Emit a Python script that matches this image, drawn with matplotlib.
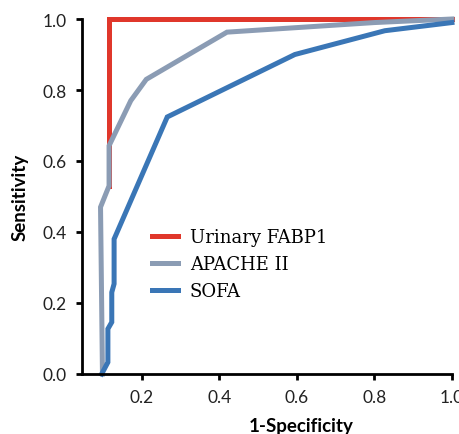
import matplotlib
matplotlib.use("Agg")
import matplotlib.pyplot as plt

# ROC curves
fabp1_x = [0.116, 0.116, 1.000]
fabp1_y = [0.530, 1.000, 1.000]

apache_x = [0.099, 0.094, 0.116, 0.116, 0.172, 0.212, 0.420, 0.800, 1.000]
apache_y = [0.000, 0.470, 0.530, 0.643, 0.770, 0.830, 0.963, 0.990, 1.000]

sofa_x = [0.097, 0.113, 0.113, 0.123, 0.123, 0.129, 0.129, 0.266, 0.595, 0.827, 1.000]
sofa_y = [0.000, 0.033, 0.127, 0.146, 0.230, 0.254, 0.380, 0.724, 0.900, 0.967, 0.990]

labels = ["Urinary FABP1", "APACHE II", "SOFA"]
colors = ["#E0372B", "#8B9CB4", "#3A76B6"]

xticks = [0.2, 0.4, 0.6, 0.8, 1.0]
yticks = [0.0, 0.2, 0.4, 0.6, 0.8, 1.0]

fig = plt.figure(figsize=(4.59, 4.35), dpi=100)
ax = fig.add_axes([0.1776, 0.138, 0.807, 0.816])

lw = 3.6
ax.plot(fabp1_x, fabp1_y, color=colors[0], lw=lw, label=labels[0],
        solid_joinstyle="miter", clip_on=False)
ax.plot(apache_x, apache_y, color=colors[1], lw=lw, label=labels[1],
        solid_joinstyle="miter", clip_on=False)
ax.plot(sofa_x, sofa_y, color=colors[2], lw=lw, label=labels[2],
        solid_joinstyle="miter", clip_on=False)

ax.set_xlim(0.045, 1.0)
ax.set_ylim(0.0, 1.0)
ax.set_xticks(xticks)
ax.set_yticks(yticks)
ax.set_xticklabels([f"{t:.1f}" for t in xticks])
ax.set_yticklabels([f"{t:.1f}" for t in yticks])

for side in ["top", "right"]:
    ax.spines[side].set_visible(False)
for side in ["left", "bottom"]:
    ax.spines[side].set_linewidth(2.0)
    ax.spines[side].set_color("black")

ax.tick_params(axis="both", direction="out", length=4.5, width=2,
               labelsize=12.5, labelcolor="#222222")
ax.tick_params(axis="x", pad=6)
ax.tick_params(axis="y", pad=6)
for lab in ax.get_xticklabels() + ax.get_yticklabels():
    lab.set_fontfamily("Lato")

ax.set_xlabel("1-Specificity", fontsize=13.5, fontweight="bold",
              fontfamily="Lato")
ax.set_ylabel("Sensitivity", fontsize=13.5, fontweight="bold",
              fontfamily="Lato")
ax.xaxis.set_label_coords(0.592, -0.146)
ax.xaxis.label.set_verticalalignment("center")
ax.yaxis.set_label_coords(-0.167, 0.5)
ax.yaxis.label.set_verticalalignment("center")

leg = ax.legend(loc="upper left", bbox_to_anchor=(0.190, 0.411),
                frameon=False, prop={"family": "DejaVu Serif", "size": 13},
                handlelength=1.44, handletextpad=0.67, labelspacing=0.5,
                borderpad=0, borderaxespad=0)
for line in leg.get_lines():
    line.set_linewidth(3.6)

fig.savefig("out.png", dpi=100)
